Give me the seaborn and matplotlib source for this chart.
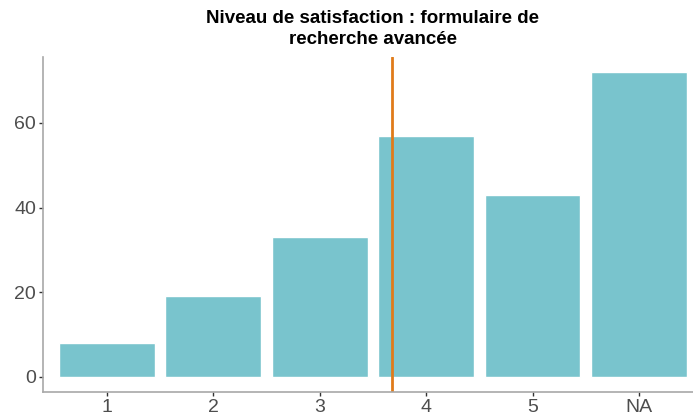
import numpy as np
import pandas as pd
import matplotlib
matplotlib.use('Agg')
import matplotlib.pyplot as plt
import seaborn as sns

categories = ['1', '2', '3', '4', '5', 'NA']
counts = [8, 19, 33, 57, 43, 72]
title = 'Niveau de satisfaction : formulaire de\nrecherche avancée'

df = pd.DataFrame({'niveau': categories, 'n': counts})

# moyenne des notes 1-5 (sans NA) -> ligne verticale
notes = df[df['niveau'] != 'NA']
moyenne = (notes['niveau'].astype(int) * notes['n']).sum() / notes['n'].sum()

sns.set_theme(style='white')
plt.rcParams['font.family'] = ['Liberation Sans', 'DejaVu Sans']

fig = plt.figure(figsize=(6.93, 4.16), dpi=100)
ax = fig.add_axes([43 / 693, 24 / 416, 1 - 43 / 693, (392 - 57) / 416])

sns.barplot(data=df, x='niveau', y='n', order=categories, color='#79C4CD',
            saturation=1, width=0.9, ax=ax)
# position en coordonnees de categorie (1 -> 0)
ax.axvline(moyenne - 1, color='#E07B1A', lw=2)

ax.set_xlim(-0.6, 5.507)
ax.set_ylim(-3.6, 75.6)
ax.set_yticks([0, 20, 40, 60])
ax.set_xlabel('')
ax.set_ylabel('')
sns.despine(ax=ax)
for s in ['left', 'bottom']:
    ax.spines[s].set_color('#a8a8a8')
    ax.spines[s].set_linewidth(1.2)
ax.tick_params(axis='both', bottom=True, left=True, length=3, width=1,
               color='#333333', labelsize=14, labelcolor='#4d4d4d', pad=2)

fig.text(373 / 693, 1 - 10 / 416, title, ha='center', va='top',
         fontsize=13.5, fontweight='bold', linespacing=1.3, color='black')

fig.savefig('out.png', dpi=100)
